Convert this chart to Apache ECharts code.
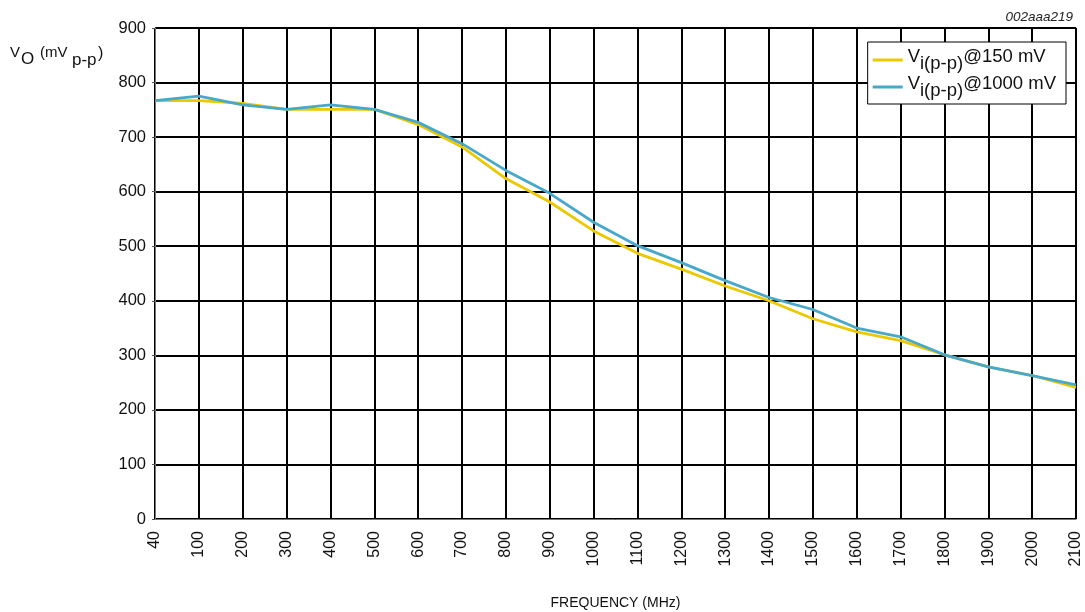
<!DOCTYPE html>
<html><head><meta charset="utf-8">
<script src="https://cdn.jsdelivr.net/npm/echarts@6/dist/echarts.min.js"></script>
<style>html,body{margin:0;padding:0;background:#fff}#c{width:1085px;height:612px}</style>
</head><body><div id="c"></div>
<script>
var categories = ['40','100','200','300','400','500','600','700','800','900','1000','1100','1200','1300','1400','1500','1600','1700','1800','1900','2000','2100'];
var v150 = [767,767,762,751,751,751,723,682,624,581,528,487,458,427,400,367,343,327,301,279,263,241];
var v1000 = [767,775,759,751,759,751,727,688,639,597,544,501,470,437,406,384,350,334,301,279,263,246];
var yTicks = [0,100,200,300,400,500,600,700,800,900];
var seriesNames = ['150', '1000'];

var FONT = 'Liberation Sans, Arial, sans-serif';
var chart = echarts.init(document.getElementById('c'));
chart.setOption({
  animation: false,
  backgroundColor: '#fff',
  grid: {left: 155, right: 9, top: 28, bottom: 93, containLabel: false, outerBoundsMode: 'none'},
  title: {
    text: '002aaa219', right: 7, top: 5,
    textStyle: {fontFamily: FONT, fontSize: 13.5, fontStyle: 'italic', fontWeight: 'normal', color: '#222'}
  },
  legend: {
    right: 19, top: 42, orient: 'vertical',
    backgroundColor: '#fff', borderColor: '#000', borderWidth: 1,
    padding: [5, 10, 4, 5], itemGap: 1,
    itemWidth: 30, itemHeight: 3, icon: 'rect',
    formatter: function (name) { return '{v|V}{s|i(p-p)}{v|@' + name + ' mV}'; },
    textStyle: {
      fontFamily: FONT, fontSize: 18.5, color: '#111',
      rich: {
        v: {fontFamily: FONT, fontSize: 18.5, color: '#111', lineHeight: 26, verticalAlign: 'top'},
        s: {fontFamily: FONT, fontSize: 18.5, color: '#111', lineHeight: 26, verticalAlign: 'bottom'}
      }
    },
    data: seriesNames
  },
  xAxis: {
    type: 'category', data: categories, boundaryGap: false,
    name: 'FREQUENCY (MHz)', nameLocation: 'middle', nameGap: 77,
    nameTextStyle: {fontFamily: FONT, fontSize: 14, color: '#111'},
    axisLine: {lineStyle: {color: '#777', width: 1}},
    axisTick: {show: false},
    axisLabel: {rotate: 90, interval: 0, margin: 12, fontFamily: FONT, fontSize: 16, color: '#111'},
    splitLine: {show: true, interval: 0, lineStyle: {color: '#000', width: 2}}
  },
  yAxis: {
    type: 'value', min: 0, max: 900, interval: 100,
    axisLine: {show: true, lineStyle: {color: '#777', width: 1}},
    axisTick: {show: true, length: 3, lineStyle: {color: '#555'}},
    axisLabel: {margin: 9, fontFamily: FONT, fontSize: 16.5, color: '#111',
      formatter: function (v) { return yTicks.indexOf(v) >= 0 ? String(v) : ''; }},
    splitLine: {show: true, lineStyle: {color: '#000', width: 2}}
  },
  graphic: [
    {type: 'text', left: 10, top: 45, style: {text: 'V', font: '15px ' + FONT, fill: '#111'}},
    {type: 'text', left: 21, top: 51, style: {text: 'O', font: '17px ' + FONT, fill: '#111'}},
    {type: 'text', left: 40, top: 45, style: {text: '(mV', font: '15px ' + FONT, fill: '#111'}},
    {type: 'text', left: 72, top: 52, style: {text: 'p-p', font: '17px ' + FONT, fill: '#111'}},
    {type: 'text', left: 98, top: 46, style: {text: ')', font: '16px ' + FONT, fill: '#111'}}
  ],
  series: [
    {name: seriesNames[0], type: 'line', data: v150, symbol: 'none', z: 3,
     lineStyle: {color: '#ecc800', width: 2.8}, itemStyle: {color: '#ecc800'}},
    {name: seriesNames[1], type: 'line', data: v1000, symbol: 'none', z: 4,
     lineStyle: {color: '#47a8c9', width: 2.8}, itemStyle: {color: '#47a8c9'}}
  ]
});
</script></body></html>
